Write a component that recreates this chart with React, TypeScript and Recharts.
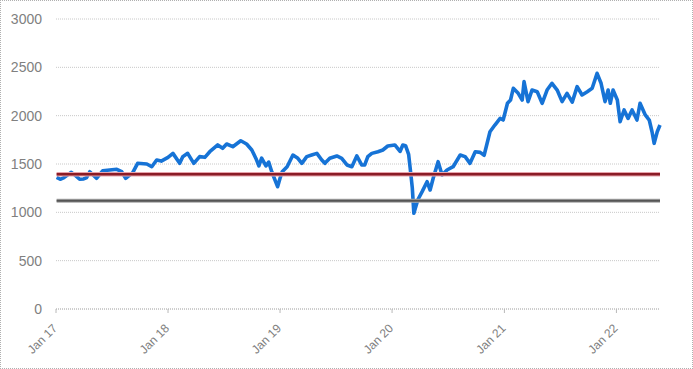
import React from "react";
import { LineChart, Line, XAxis, YAxis, CartesianGrid } from "recharts";

// Index level, roughly every two weeks
const dates = [
  "2017-01-03", "2017-01-16", "2017-01-27", "2017-02-20", "2017-03-06", "2017-03-19",
  "2017-04-01", "2017-04-11", "2017-04-21", "2017-05-13", "2017-06-02", "2017-06-25",
  "2017-07-18", "2017-08-03", "2017-08-16", "2017-09-08", "2017-09-24", "2017-10-24",
  "2017-11-09", "2017-11-25", "2017-12-10",
  "2018-01-01", "2018-01-17", "2018-02-08", "2018-02-18", "2018-03-06", "2018-03-26",
  "2018-04-14", "2018-05-01", "2018-05-17", "2018-06-12", "2018-06-28", "2018-07-11",
  "2018-07-31", "2018-08-26", "2018-09-14", "2018-10-01", "2018-10-14", "2018-10-24",
  "2018-11-02", "2018-11-16", "2018-11-25", "2018-12-05", "2018-12-24",
  "2019-01-01", "2019-01-08", "2019-01-24", "2019-02-12", "2019-02-28", "2019-03-13",
  "2019-03-29", "2019-04-14", "2019-05-01", "2019-05-17", "2019-05-27", "2019-06-12",
  "2019-07-05", "2019-07-21", "2019-08-07", "2019-08-23", "2019-09-08", "2019-09-24",
  "2019-10-04", "2019-10-14", "2019-10-27", "2019-11-16", "2019-12-02", "2019-12-18",
  "2020-01-10", "2020-01-27", "2020-02-05", "2020-02-14", "2020-02-24", "2020-03-02",
  "2020-03-07", "2020-03-12", "2020-03-25", "2020-04-08", "2020-04-24", "2020-05-04",
  "2020-05-14", "2020-05-30", "2020-06-12", "2020-06-28", "2020-07-18", "2020-08-10",
  "2020-08-26", "2020-09-11", "2020-09-28", "2020-10-14", "2020-10-27", "2020-11-15",
  "2020-12-01", "2020-12-18", "2020-12-28",
  "2021-01-11", "2021-01-21", "2021-01-30", "2021-02-15", "2021-02-28", "2021-03-06",
  "2021-03-19", "2021-04-01", "2021-04-18", "2021-05-04", "2021-05-20", "2021-06-05",
  "2021-06-22", "2021-07-08", "2021-07-24", "2021-08-10", "2021-08-26", "2021-09-11",
  "2021-09-28", "2021-10-14", "2021-10-30", "2021-11-12", "2021-11-25", "2021-12-05",
  "2021-12-12", "2021-12-21",
  "2022-01-04", "2022-01-13", "2022-01-26", "2022-02-08", "2022-02-21", "2022-03-09",
  "2022-03-19", "2022-04-05", "2022-04-18", "2022-04-27", "2022-05-04", "2022-05-14",
  "2022-05-23",
];

const values = [
  1362, 1342, 1360, 1414, 1380, 1342,
  1345, 1360, 1420, 1352, 1430, 1438,
  1445, 1420, 1352, 1410, 1507, 1500,
  1472, 1541, 1530,
  1569, 1610, 1507, 1576, 1610, 1507,
  1576, 1569, 1627, 1697, 1662, 1707,
  1679, 1741, 1707, 1645, 1560, 1480,
  1560, 1480, 1520, 1420, 1265,
  1352, 1420, 1472, 1593, 1559, 1507,
  1576, 1593, 1610, 1541, 1507, 1559,
  1583, 1559, 1490, 1472, 1583, 1490,
  1490, 1576, 1610, 1627, 1645, 1686,
  1697, 1630, 1697, 1690, 1600, 1400,
  1250, 990, 1130, 1214, 1317, 1231,
  1352, 1524, 1386, 1438, 1472, 1593,
  1576, 1507, 1627, 1620, 1590, 1834,
  1903, 1972, 1955,
  2128, 2162, 2283, 2231, 2162, 2352,
  2145, 2265, 2248, 2128, 2265, 2335,
  2265, 2145, 2231, 2140, 2300, 2214,
  2248, 2283, 2438, 2335, 2145, 2265,
  2128, 2265,
  2162, 1938, 2059, 1972, 2059, 1955,
  2128, 2007, 1955, 1834, 1714, 1834,
  1903,
];

const redLevel = 1395;
const grayLevel = 1120;

const yTicks = [0, 500, 1000, 1500, 2000, 2500, 3000];
const xTickDates = ["2017-01-01", "2018-01-01", "2019-01-01", "2020-01-01", "2021-01-01", "2022-01-01"];

const months = ["Jan", "Feb", "Mar", "Apr", "May", "Jun", "Jul", "Aug", "Sep", "Oct", "Nov", "Dec"];

const data = dates.map((d, i) => ({
  t: Date.parse(d),
  value: values[i],
  red: redLevel,
  gray: grayLevel,
}));

const xTicks = xTickDates.map((d) => Date.parse(d));

const fmtDate = (v: number) => {
  const d = new Date(v);
  return `${months[d.getUTCMonth()]} ${String(d.getUTCFullYear()).slice(2)}`;
};

const FONT = "'Liberation Sans', Arial, sans-serif";
const TEXT = "#808080";

const XTick = (props: any) => {
  const { x, y, payload } = props;
  const ax = x + 2;
  const ay = y + 14;
  return (
    <text
      x={ax}
      y={ay}
      textAnchor="end"
      fill={TEXT}
      fontSize={12}
      fontFamily={FONT}
      transform={`rotate(-45 ${ax} ${ay})`}
    >
      {fmtDate(payload.value)}
    </text>
  );
};

export default function App() {
  return (
    <div style={{ position: "absolute", left: 0, top: 0, width: 693, height: 369, background: "#fff" }}>
      <div
        style={{
          position: "absolute",
          left: 0,
          top: 0,
          width: 693,
          height: 369,
          boxSizing: "border-box",
          border: "1px dotted #b0b0b0",
          pointerEvents: "none",
        }}
      />
      <LineChart width={693} height={369} data={data} margin={{ top: 19, right: 33, bottom: 0, left: 0 }}>
        <CartesianGrid vertical={false} stroke="#c8c8c8" strokeDasharray="1 1" />
        <XAxis
          dataKey="t"
          type="number"
          scale="time"
          domain={[Date.parse("2017-01-01"), Date.parse("2022-05-23")]}
          ticks={xTicks}
          tick={<XTick />}
          tickSize={4}
          tickMargin={2}
          axisLine={{ stroke: "#b8b8b8", strokeDasharray: "1 1" }}
          tickLine={{ stroke: "#b8b8b8" }}
          height={60}
        />
        <YAxis
          domain={[0, 3000]}
          ticks={yTicks}
          width={56}
          axisLine={false}
          tickLine={false}
          tickSize={6}
          tickMargin={8}
          tick={{ fill: TEXT, fontSize: 14, fontFamily: FONT }}
        />
        <Line
          dataKey="value"
          stroke="#1673d6"
          strokeWidth={3.6}
          dot={false}
          strokeLinejoin="round"
          isAnimationActive={false}
        />
        <Line dataKey="red" stroke="#e7a3ab" strokeWidth={4.5} dot={false} isAnimationActive={false} />
        <Line dataKey="red" stroke="#8b1c26" strokeWidth={2.5} dot={false} isAnimationActive={false} />
        <Line dataKey="gray" stroke="#a8a8a8" strokeWidth={4} dot={false} isAnimationActive={false} />
        <Line dataKey="gray" stroke="#555555" strokeWidth={2} dot={false} isAnimationActive={false} />
      </LineChart>
    </div>
  );
}
